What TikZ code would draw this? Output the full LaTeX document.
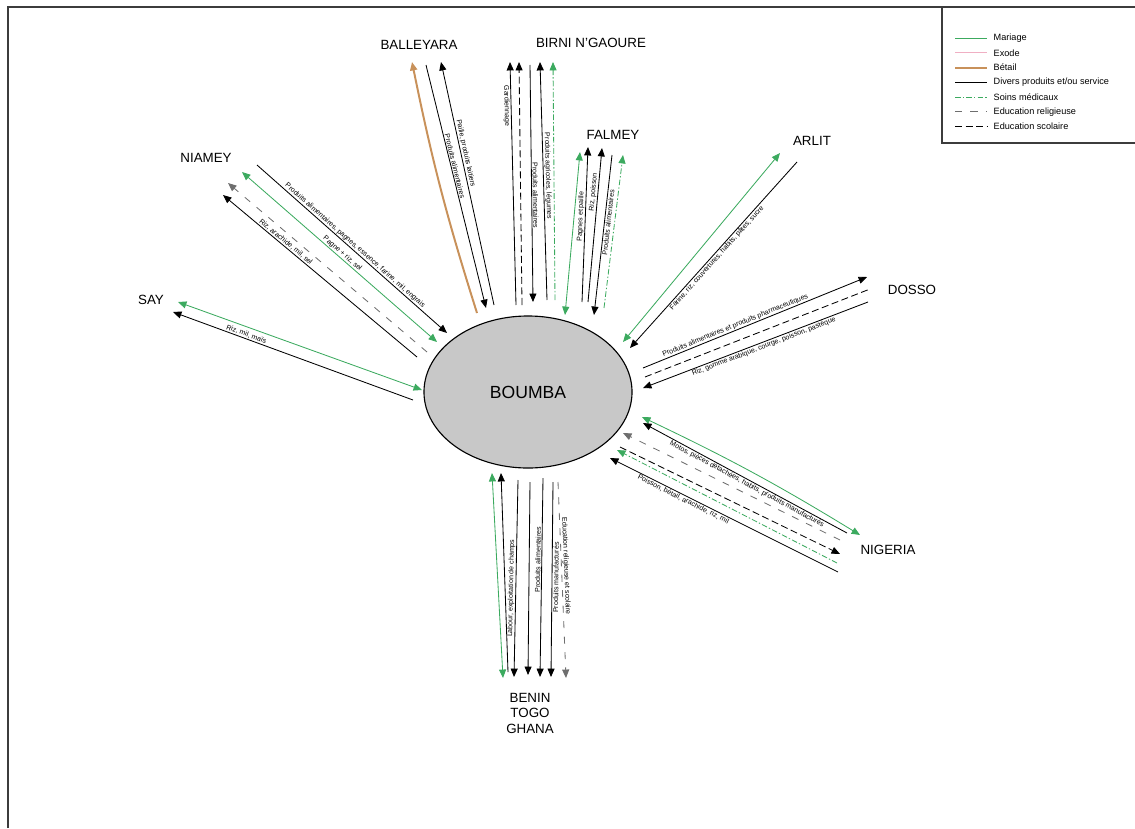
\documentclass[tikz,border=0pt]{standalone}
\usepackage{fontspec}
\setmainfont{Liberation Sans}
\usetikzlibrary{arrows.meta,shapes.geometric}

\definecolor{mariagec}{RGB}{60,170,95}
\definecolor{exodec}{RGB}{240,175,195}
\definecolor{betailc}{RGB}{200,145,90}
\definecolor{relc}{RGB}{110,110,110}
\definecolor{boumbac}{RGB}{200,200,200}
\definecolor{cadrec}{RGB}{60,60,60}

\tikzset{
  lieu/.style={font=\fontsize{9.5}{11}\selectfont, inner sep=1pt},
  lab/.style={font=\fontsize{5}{5.5}\selectfont, sloped, inner sep=0.6pt},
  legtxt/.style={font=\fontsize{6.5}{7}\selectfont, inner sep=1pt},
  fl/.style={-{Triangle[length=6pt,width=5pt]}},
  dfl/.style={{Triangle[length=6pt,width=5pt]}-{Triangle[length=6pt,width=5pt]}},
  divers/.style={draw=black, line width=0.6pt},
  mariage/.style={draw=mariagec, line width=0.6pt},
  exode/.style={draw=exodec, line width=0.8pt},
  betail/.style={draw=betailc, line width=1.4pt},
  soins/.style={draw=mariagec, line width=0.6pt, dash pattern=on 4pt off 1.5pt on 1pt off 1.5pt},
  religieuse/.style={draw=relc, line width=0.6pt, dash pattern=on 5pt off 6pt},
  scolaire/.style={draw=black, line width=0.6pt, dash pattern=on 5pt off 2.5pt},
  cadre/.style={draw=cadrec, line width=1pt}
}

\begin{document}
\begin{tikzpicture}[x=0.025cm, y=-0.025cm]
\useasboundingbox (0,0) rectangle (1135,828);

% cadre et legende
\draw[cadre] (8,828) -- (8,7) -- (1135,7);
\draw[cadre] (942,7) -- (942,143) -- (1135,143);
\foreach \sty/\txt [count=\i] in {mariage/Mariage, exode/Exode, betail/Bétail, divers/{Divers produits et/ou service}, soins/Soins médicaux, religieuse/Education religieuse, scolaire/Education scolaire} {
  \coordinate (lega\i) at (955, 23.5+14.7*\i);
  \coordinate (legb\i) at (987, 23.5+14.7*\i);
  \draw[\sty] (lega\i) -- (legb\i);
  \node[legtxt, anchor=west] (legt\i) at (992, 23.5+14.7*\i) {\txt};
}

% lieux
\node[draw, ellipse, fill=boumbac, line width=0.8pt, minimum width=5.2cm, minimum height=3.8cm,
  font=\fontsize{12.5}{14}\selectfont] (boumba) at (528,392) {BOUMBA};
\node[lieu] (balleyara) at (419,45) {BALLEYARA};
\node[lieu] (birni) at (591,43) {BIRNI N'GAOURE};
\node[lieu] (falmey) at (613,135) {FALMEY};
\node[lieu] (arlit) at (812,141) {ARLIT};
\node[lieu] (niamey) at (206,158) {NIAMEY};
\node[lieu] (dosso) at (912,290) {DOSSO};
\node[lieu] (say) at (151,300) {SAY};
\node[lieu] (nigeria) at (888,550) {NIGERIA};
\node[lieu, align=center] (benin) at (530,713) {BENIN\\TOGO\\GHANA};

% extremites des fleches
\coordinate (nia1a) at (257,165); \coordinate (nia1b) at (447,333);
\coordinate (nia2a) at (242,172); \coordinate (nia2b) at (437,342);
\coordinate (nia3a) at (427,352); \coordinate (nia3b) at (228,183);
\coordinate (nia4a) at (417,357); \coordinate (nia4b) at (223,195);
\coordinate (say1a) at (178,302); \coordinate (say1b) at (422,390);
\coordinate (say2a) at (413,400); \coordinate (say2b) at (173,312);
\coordinate (bal1a) at (477,313); \coordinate (bal1b) at (412,62);
\coordinate (bal2a) at (426,65);  \coordinate (bal2b) at (486,308);
\coordinate (bal3a) at (494,305); \coordinate (bal3b) at (441,62);
\coordinate (bir1a) at (516,305); \coordinate (bir1b) at (510,62);
\coordinate (bir2a) at (522,305); \coordinate (bir2b) at (519,62);
\coordinate (bir3a) at (530,65);  \coordinate (bir3b) at (533,302);
\coordinate (bir4a) at (547,300); \coordinate (bir4b) at (540,62);
\coordinate (bir5a) at (555,300); \coordinate (bir5b) at (553,62);
\coordinate (fal1a) at (565,315); \coordinate (fal1b) at (580,152);
\coordinate (fal2a) at (582,302); \coordinate (fal2b) at (588,147);
\coordinate (fal3a) at (588,302); \coordinate (fal3b) at (602,148);
\coordinate (fal4a) at (612,155); \coordinate (fal4b) at (594,315);
\coordinate (fal5a) at (604,308); \coordinate (fal5b) at (623,155);
\coordinate (arl1a) at (780,153); \coordinate (arl1b) at (623,342);
\coordinate (arl2a) at (797,162); \coordinate (arl2b) at (630,348);
\coordinate (dos1a) at (643,368); \coordinate (dos1b) at (867,277);
\coordinate (dos2a) at (645,377); \coordinate (dos2b) at (870,289);
\coordinate (dos3a) at (868,302); \coordinate (dos3b) at (643,388);
\coordinate (nig1a) at (642,417); \coordinate (nig1b) at (860,535);
\coordinate (nig2a) at (847,533); \coordinate (nig2b) at (643,423);
\coordinate (nig3a) at (840,540); \coordinate (nig3b) at (623,433);
\coordinate (nig4a) at (620,447); \coordinate (nig4b) at (840,554);
\coordinate (nig5a) at (837,563); \coordinate (nig5b) at (617,450);
\coordinate (nig6a) at (838,572); \coordinate (nig6b) at (610,458);
\coordinate (ben1a) at (492,473); \coordinate (ben1b) at (503,678);
\coordinate (ben2a) at (508,672); \coordinate (ben2b) at (501,473);
\coordinate (ben3a) at (518,480); \coordinate (ben3b) at (514,677);
\coordinate (ben4a) at (530,482); \coordinate (ben4b) at (528,675);
\coordinate (ben5a) at (543,478); \coordinate (ben5b) at (540,677);
\coordinate (ben6a) at (553,482); \coordinate (ben6b) at (551,677);
\coordinate (ben7a) at (558,482); \coordinate (ben7b) at (566,678);

% Niamey
\draw[divers, fl] (nia1a) -- node[lab, above] {Produits alimentaires, pagnes, essence, farine, mil, engrais} (nia1b);
\draw[mariage, dfl] (nia2a) -- node[lab, above] {Pagne + riz, sel} (nia2b);
\draw[religieuse, fl] (nia3a) -- (nia3b);
\draw[divers, fl] (nia4a) -- node[lab, above, pos=0.69] {Riz, arachide, mil, sel} (nia4b);

% Say
\draw[mariage, dfl] (say1a) -- (say1b);
\draw[divers, fl] (say2a) -- node[lab, above, pos=0.7] {Riz, mil, maïs} (say2b);

% Balleyara
\draw[betail, fl] (bal1a) to[bend left=3] (bal1b);
\draw[divers, fl] (bal2a) -- node[lab, above, pos=0.42] {Produits alimentaires} (bal2b);
\draw[divers, fl] (bal3a) -- node[lab, above, pos=0.62] {Paille, produits laitiers} (bal3b);

% Birni N'Gaoure
\draw[divers, fl] (bir1a) -- node[lab, below, pos=0.82] {Gardiennage} (bir1b);
\draw[scolaire, fl] (bir2a) -- (bir2b);
\draw[divers, fl] (bir3a) -- node[lab, above, pos=0.55] {Produits alimentaires} (bir3b);
\draw[divers, fl] (bir4a) -- node[lab, above, pos=0.52] {Produits agricoles, légumes} (bir4b);
\draw[soins, fl] (bir5a) -- (bir5b);

% Falmey
\draw[mariage, dfl] (fal1a) -- (fal1b);
\draw[divers, fl] (fal2a) -- node[lab, above, pos=0.55] {Pagnes et paille} (fal2b);
\draw[divers, fl] (fal3a) -- node[lab, above, pos=0.71] {Riz, poisson} (fal3b);
\draw[divers, fl] (fal4a) -- node[lab, below, pos=0.42] {Produits alimentaires} (fal4b);
\draw[soins, fl] (fal5a) -- (fal5b);

% Arlit
\draw[mariage, dfl] (arl1a) -- (arl1b);
\draw[divers, fl] (arl2a) -- node[lab, below] {Farine, riz, couvertures, habits, pâtes, sucre} (arl2b);

% Dosso
\draw[divers, fl] (dos1a) -- node[lab, above, pos=0.42] {Produits alimentaires et produits pharmaceutiques} (dos1b);
\draw[scolaire] (dos2a) -- (dos2b);
\draw[divers, fl] (dos3a) -- node[lab, below, pos=0.47] {Riz, gomme arabique, courge, poisson, pastèque} (dos3b);

% Nigeria
\draw[mariage, dfl] (nig1a) to[bend left=3] (nig1b);
\draw[divers, fl] (nig2a) -- node[lab, below, pos=0.48] {Motos, pièces détachées, habits, produits manufacturés} (nig2b);
\draw[religieuse, fl] (nig3a) -- (nig3b);
\draw[scolaire, fl] (nig4a) -- (nig4b);
\draw[soins, fl] (nig5a) -- (nig5b);
\draw[divers, fl] (nig6a) -- node[lab, below, pos=0.67] {Poisson, bétail, arachide, riz, mil} (nig6b);

% Benin Togo Ghana
\draw[mariage, dfl] (ben1a) -- (ben1b);
\draw[divers, fl] (ben2a) -- (ben2b);
\draw[divers, fl] (ben3a) -- node[lab, above, pos=0.55] {Labour, exploitation de champs} (ben3b);
\draw[divers, fl] (ben4a) -- (ben4b);
\draw[divers, fl] (ben5a) -- node[lab, above, pos=0.41] {Produits alimentaires} (ben5b);
\draw[divers, fl] (ben6a) -- node[lab, below, pos=0.49] {Produits manufacturés} (ben6b);
\draw[religieuse, fl] (ben7a) -- node[lab, above, pos=0.43] {Education religieuse et scolaire} (ben7b);
\end{tikzpicture}
\end{document}
